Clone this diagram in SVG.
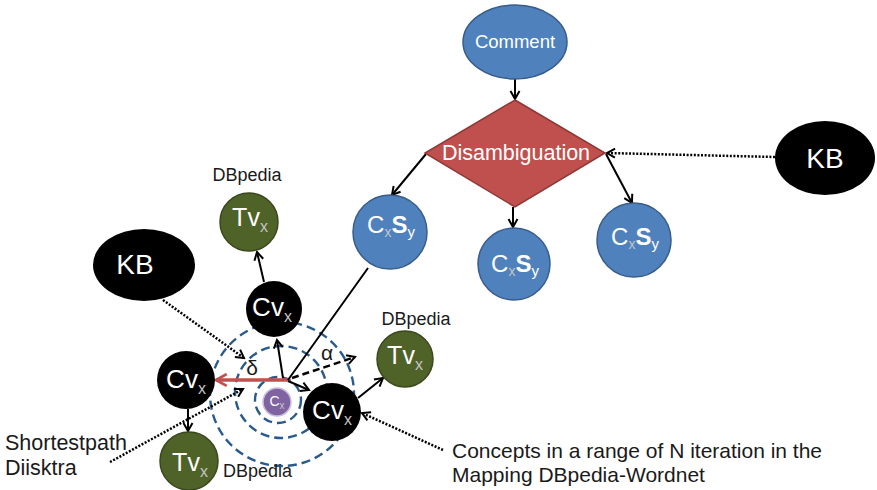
<svg xmlns="http://www.w3.org/2000/svg" width="877" height="490" viewBox="0 0 877 490">
  <style>
    text { font-family: "Liberation Sans", Arial, sans-serif; }
    .wt { fill: #ffffff; text-anchor: middle; }
    .lbl { fill: #1a1a1a; }
    .sub { fill: #c4c4c4; }
    .blue { fill: #4f81bd; stroke: #385d8a; stroke-width: 1.5; }
    .green { fill: #4f6228; stroke: #3a481d; stroke-width: 1.5; }
    .black { fill: #000000; }
    .ln { stroke: #000; stroke-width: 2; fill: none; }
    .dot { stroke: #000; stroke-width: 2.5; stroke-dasharray: 2 1.6; fill: none; }
    .ring { fill: none; stroke: #2a5a8c; stroke-width: 2.4; stroke-dasharray: 9 5; }
  </style>
  <defs>
    <marker id="arr" viewBox="0 0 12 12" refX="10" refY="6" markerWidth="12" markerHeight="12" markerUnits="userSpaceOnUse" orient="auto">
      <path d="M2,1.5 L10,6 L2,10.5" fill="none" stroke="#000" stroke-width="2"/>
    </marker>
    <marker id="arrRed" viewBox="0 0 14 14" refX="12" refY="7" markerWidth="15" markerHeight="15" markerUnits="userSpaceOnUse" orient="auto">
      <path d="M2,1.5 L12,7 L2,12.5" fill="none" stroke="#c0504d" stroke-width="2.6"/>
    </marker>
  </defs>

  <!-- iteration range rings around Cx -->
  <g id="rings">
    <circle class="ring" cx="282" cy="394" r="72"/>
    <circle class="ring" cx="281" cy="392" r="46"/>
    <circle class="ring" cx="278" cy="400" r="23"/>
  </g>

  <g id="connectors">
    <line class="ln" x1="515" y1="79" x2="515" y2="99" marker-end="url(#arr)"/>
    <line class="ln" x1="426" y1="154" x2="392" y2="195" marker-end="url(#arr)"/>
    <line class="ln" x1="513" y1="207" x2="513" y2="227" marker-end="url(#arr)"/>
    <line class="ln" x1="606" y1="154" x2="632" y2="203" marker-end="url(#arr)"/>
    <line class="dot" x1="775" y1="157" x2="607" y2="153" marker-end="url(#arr)"/>
    <line class="dot" x1="163" y1="300" x2="244" y2="358" marker-end="url(#arr)"/>
    <line class="dot" x1="110" y1="462" x2="243" y2="389" marker-end="url(#arr)"/>
    <line class="dot" x1="443" y1="450" x2="362" y2="413" marker-end="url(#arr)"/>
    <line x1="290" y1="380" x2="216" y2="380" stroke="#c0504d" stroke-width="3.5" marker-end="url(#arrRed)"/>
    <line class="ln" x1="283" y1="378" x2="277" y2="340" marker-end="url(#arr)"/>
    <line class="ln" x1="288" y1="381" x2="309" y2="390" marker-end="url(#arr)"/>
    <line x1="292" y1="378" x2="355" y2="357" stroke="#000" stroke-width="2.5" stroke-dasharray="7 4" marker-end="url(#arr)"/>
    <line class="ln" x1="288" y1="380" x2="368" y2="268"/>
    <line class="ln" x1="264" y1="282" x2="257" y2="252" marker-end="url(#arr)"/>
    <line class="ln" x1="188" y1="409" x2="188" y2="431" marker-end="url(#arr)"/>
    <line class="ln" x1="358" y1="398" x2="383" y2="378" marker-end="url(#arr)"/>
    <text x="252" y="375" font-size="21" text-anchor="middle" class="lbl">δ</text>
    <text x="327" y="360" font-size="21" text-anchor="middle" class="lbl">α</text>
  </g>

  <g id="comment">
    <ellipse class="blue" cx="515" cy="42" rx="52" ry="37"/>
    <text class="wt" x="515" y="48" font-size="18.5">Comment</text>
  </g>

  <g id="disambiguation">
    <polygon points="515,100 605,153 515,207 425,153" fill="#c0504d" stroke="#8c3836" stroke-width="1.5"/>
    <text class="wt" x="516" y="160" font-size="21.5">Disambiguation</text>
  </g>

  <g id="kb-right">
    <ellipse class="black" cx="825" cy="158" rx="50" ry="37"/>
    <text class="wt" x="825" y="168" font-size="28">KB</text>
  </g>

  <g id="kb-left">
    <ellipse class="black" cx="144" cy="265" rx="51" ry="36"/>
    <text class="wt" x="135" y="274" font-size="28">KB</text>
  </g>

  <g id="cxsy-left">
    <circle class="blue" cx="390" cy="232" r="37"/>
    <text class="wt" x="391" y="233" font-size="24">C<tspan class="sub" font-size="14" dy="4">x</tspan><tspan dy="-4" fill="#fff" font-weight="bold">S</tspan><tspan fill="#fff" font-size="15" dy="4">y</tspan></text>
  </g>

  <g id="cxsy-mid">
    <circle class="blue" cx="514" cy="264" r="36"/>
    <text class="wt" x="515" y="272" font-size="24">C<tspan class="sub" font-size="14" dy="4">x</tspan><tspan dy="-4" fill="#fff" font-weight="bold">S</tspan><tspan fill="#fff" font-size="15" dy="4">y</tspan></text>
  </g>

  <g id="cxsy-right">
    <circle class="blue" cx="634" cy="240" r="37"/>
    <text class="wt" x="635" y="245" font-size="24">C<tspan class="sub" font-size="14" dy="4">x</tspan><tspan dy="-4" fill="#fff" font-weight="bold">S</tspan><tspan fill="#fff" font-size="15" dy="4">y</tspan></text>
  </g>

  <g id="tv-top">
    <circle class="green" cx="249" cy="222" r="29"/>
    <text class="wt" x="250" y="226" font-size="25">Tv<tspan class="sub" font-size="16" dy="6">x</tspan></text>
    <text x="247" y="181" font-size="18" text-anchor="middle" class="lbl">DBpedia</text>
  </g>

  <g id="cv-top">
    <circle class="black" cx="274" cy="309" r="28"/>
    <text class="wt" x="272" y="316" font-size="26">Cv<tspan class="sub" font-size="16" dy="6">x</tspan></text>
  </g>

  <g id="cv-left">
    <circle class="black" cx="186" cy="380" r="29"/>
    <text class="wt" x="186" y="388" font-size="26">Cv<tspan class="sub" font-size="16" dy="6">x</tspan></text>
  </g>

  <g id="cv-right">
    <circle class="black" cx="332" cy="412" r="29"/>
    <text class="wt" x="332" y="419" font-size="26">Cv<tspan class="sub" font-size="16" dy="6">x</tspan></text>
  </g>

  <g id="tv-right">
    <circle class="green" cx="405" cy="359" r="28"/>
    <text class="wt" x="405" y="364" font-size="25">Tv<tspan class="sub" font-size="16" dy="6">x</tspan></text>
    <text x="416" y="325" font-size="18" text-anchor="middle" class="lbl">DBpedia</text>
  </g>

  <g id="tv-bottom">
    <circle class="green" cx="189" cy="461" r="29"/>
    <text class="wt" x="190" y="471" font-size="25">Tv<tspan class="sub" font-size="16" dy="6">x</tspan></text>
    <text x="223" y="477" font-size="18" class="lbl">DBpedia</text>
  </g>

  <g id="cx">
    <circle cx="277" cy="402" r="14" fill="#8064a2" stroke="#c9bfdc" stroke-width="1.5"/>
    <text class="wt" x="277" y="406" font-size="14">C<tspan class="sub" font-size="10" dy="3">x</tspan></text>
  </g>

  <g id="notes">
    <text x="5" y="450" font-size="21.5" class="lbl">Shortestpath</text>
    <text x="5" y="475" font-size="21.5" class="lbl">Diisktra</text>
    <text x="452" y="458" font-size="21" class="lbl">Concepts in a range of N iteration in the</text>
    <text x="452" y="482" font-size="21" class="lbl">Mapping DBpedia-Wordnet</text>
  </g>
</svg>
